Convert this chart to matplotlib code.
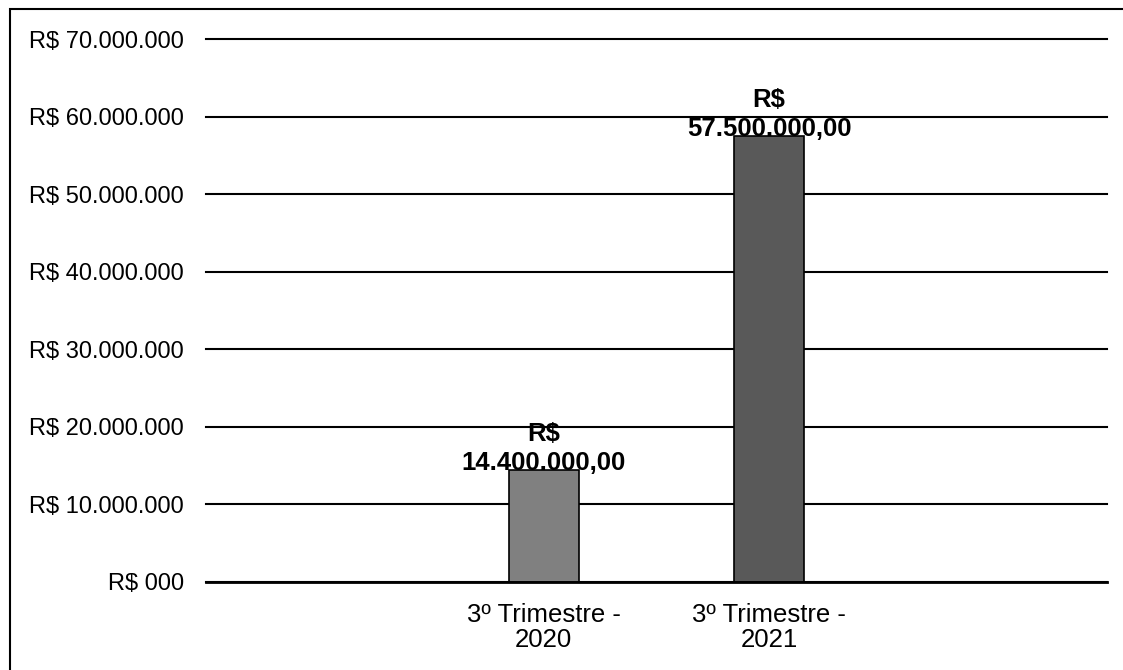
import matplotlib.pyplot as plt
from matplotlib.patches import Rectangle
from matplotlib.ticker import FuncFormatter

plt.rcParams['font.family'] = ['Liberation Sans', 'DejaVu Sans']

categorias = ['3º Trimestre -\n2020', '3º Trimestre -\n2021']
valores = [14400000, 57500000]
rotulos = ['R$\n14.400.000,00', 'R$\n57.500.000,00']
cores = ['#808080', '#595959']
yticks = [0, 10000000, 20000000, 30000000, 40000000, 50000000, 60000000, 70000000]


def fmt_reais(v, pos):
    if v == 0:
        return 'R$ 000'
    return 'R$ ' + '{:,.0f}'.format(v).replace(',', '.')


fig = plt.figure(figsize=(11.23, 6.70), dpi=100)
ax = fig.add_axes([206/1123, 1-582/670, 901/1123, 543/670])

x = list(range(len(categorias)))
ax.bar(x, valores, width=0.31, color=cores, edgecolor='black', linewidth=1.2, zorder=3)

for xi, v, r in zip(x, valores, rotulos):
    ax.text(xi, v, r, ha='center', va='baseline', fontsize=18.5, fontweight='bold',
            linespacing=1.27, zorder=4)

ax.set_xlim(-1.5, 2.5)
ax.set_ylim(0, 70000000)
ax.set_yticks(yticks)
ax.yaxis.set_major_formatter(FuncFormatter(fmt_reais))
ax.set_xticks(x)
ax.set_xticklabels(categorias, fontsize=18.5, linespacing=1.08)
ax.tick_params(axis='y', labelsize=17, length=0, pad=16)
ax.tick_params(axis='x', length=0, pad=15)
ax.grid(axis='y', color='black', linewidth=1.5, zorder=0)
for gl in ax.get_ygridlines():
    gl.set_clip_on(False)
for s in ['left', 'right', 'top']:
    ax.spines[s].set_visible(False)
ax.spines['bottom'].set_linewidth(2)
ax.spines['bottom'].set_zorder(5)

# moldura externa
fig.patches.append(Rectangle((10/1123, -0.05), 1.1, 1-9/670+0.05, transform=fig.transFigure,
                             fill=False, edgecolor='black', linewidth=1.5))

fig.savefig('out.png', dpi=100)
